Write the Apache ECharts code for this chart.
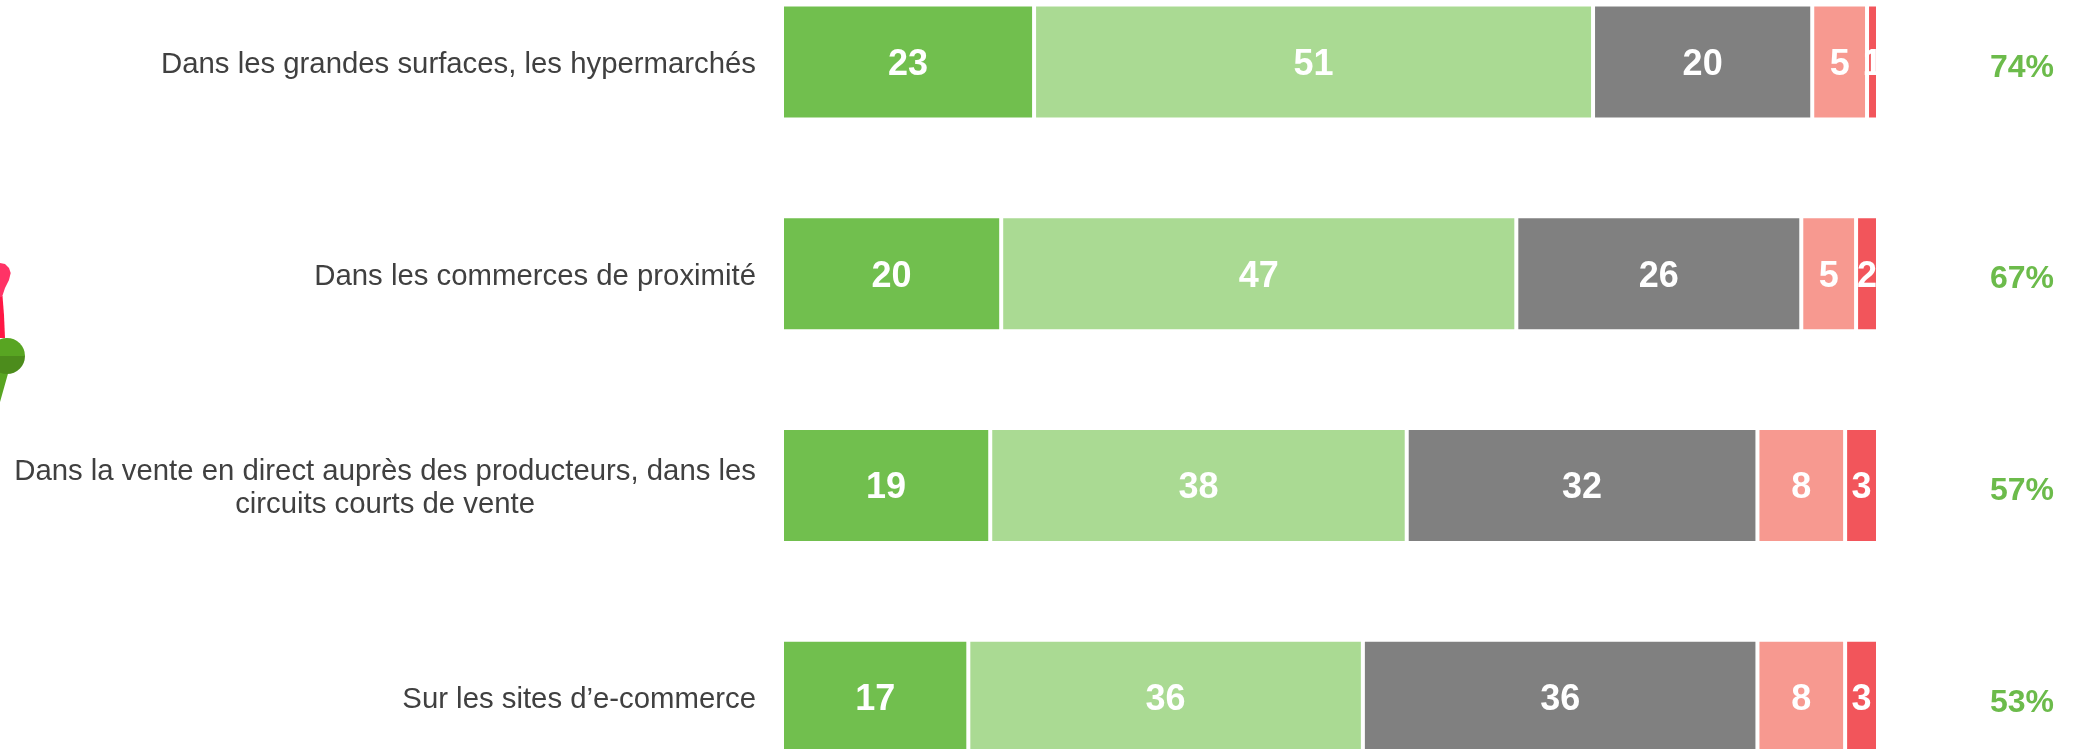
<!DOCTYPE html>
<html>
<head>
<meta charset="utf-8">
<style>html,body{margin:0;padding:0;background:#fff}#main{width:2080px;height:749px}</style>
<script src="https://cdn.jsdelivr.net/npm/echarts@6/dist/echarts.min.js"></script>
</head>
<body>
<div id="main"></div>
<script>
const categories = [
  'Dans les grandes surfaces, les hypermarchés',
  'Dans les commerces de proximité',
  'Dans la vente en direct auprès des producteurs, dans les\ncircuits courts de vente',
  'Sur les sites d’e-commerce'
];
const tresConfiance = [23, 20, 19, 17];
const plutotConfiance = [51, 47, 38, 36];
const neutre = [20, 26, 32, 36];
const plutotPas = [5, 5, 8, 8];
const pasDuTout = [1, 2, 3, 3];
const totals = ['74%', '67%', '57%', '53%'];

const chart = echarts.init(document.getElementById('main'));

function barSeries(name, values, color) {
  return {
    name: name,
    type: 'bar',
    stack: 'total',
    barWidth: 115,
    data: values,
    silent: true,
    itemStyle: { color: color, borderColor: '#fff', borderWidth: 2 },
    label: {
      show: true,
      position: 'inside',
      formatter: params => `{v|${params.value}}`,
      padding: [6, 0, 0, 0],
      rich: {
        v: { color: '#fff', fontFamily: 'Liberation Sans', fontWeight: 'bold', fontSize: 36 }
      }
    }
  };
}

chart.setOption({
  animation: false,
  backgroundColor: '#fff',
  grid: { left: 782, top: -44, width: 1096, height: 847, outerBoundsMode: 'none' },
  xAxis: { type: 'value', min: 0, max: 100, show: false },
  yAxis: [
    {
      type: 'category',
      inverse: true,
      data: categories,
      axisLine: { show: false },
      axisTick: { show: false },
      axisLabel: {
        margin: 26,
        interval: 0,
        hideOverlap: false,
        padding: [6, 0, 0, 0],
        fontFamily: 'Liberation Sans',
        fontSize: 29.33,
        lineHeight: 33,
        color: '#404040',
        formatter: function (value) {
          if (value.indexOf('\n') < 0) return value;
          return value.split('\n').map(line => `{c|${line}}`).join('\n');
        },
        rich: {
          c: { align: 'center', fontFamily: 'Liberation Sans', fontSize: 29.33, lineHeight: 33, color: '#404040' }
        }
      }
    },
    {
      type: 'category',
      inverse: true,
      position: 'right',
      data: totals,
      axisLine: { show: false },
      axisTick: { show: false },
      axisLabel: {
        margin: 144,
        interval: 0,
        align: 'center',
        padding: [12, 0, 0, 0],
        formatter: value => `{v|${value}}`,
        rich: {
          v: { color: '#6CBB4B', fontFamily: 'Liberation Sans', fontWeight: 'bold', fontSize: 32 }
        }
      }
    }
  ],
  series: [
    barSeries('Tout à fait', tresConfiance, '#71BF4E'),
    barSeries('Plutôt', plutotConfiance, '#AADA93'),
    barSeries('Neutre', neutre, '#808080'),
    barSeries('Plutôt pas', plutotPas, '#F79990'),
    barSeries('Pas du tout', pasDuTout, '#F2555B')
  ],
  graphic: [
    // labels stop at the end of the bars
    { type: 'rect', z: 100, silent: true, shape: { x: 1876, y: 0, width: 30, height: 749 }, style: { fill: '#fff' } },
    // pin icon cut off by the left edge
    { type: 'polygon', z: 100, silent: true, shape: { points: [[0, 296], [2.5, 296], [4, 315], [5, 338], [0, 338]] }, style: { fill: '#FF1744' } },
    { type: 'polygon', z: 100, silent: true, shape: { points: [[0, 263], [5, 264], [9, 268], [10.7, 273], [9, 280], [5, 288], [2, 297], [0, 297]] }, style: { fill: '#FF3366' } },
    { type: 'polygon', z: 100, silent: true, shape: { points: [[0, 370], [9, 370], [0, 402]] }, style: { fill: '#58A522' } },
    { type: 'sector', z: 101, silent: true, shape: { cx: 7, cy: 356, r0: 0, r: 18, startAngle: Math.PI, endAngle: 2 * Math.PI }, style: { fill: '#58A522' } },
    { type: 'sector', z: 101, silent: true, shape: { cx: 7, cy: 356, r0: 0, r: 18, startAngle: 0, endAngle: Math.PI }, style: { fill: '#4C8C1C' } }
  ]
});
</script>
</body>
</html>
